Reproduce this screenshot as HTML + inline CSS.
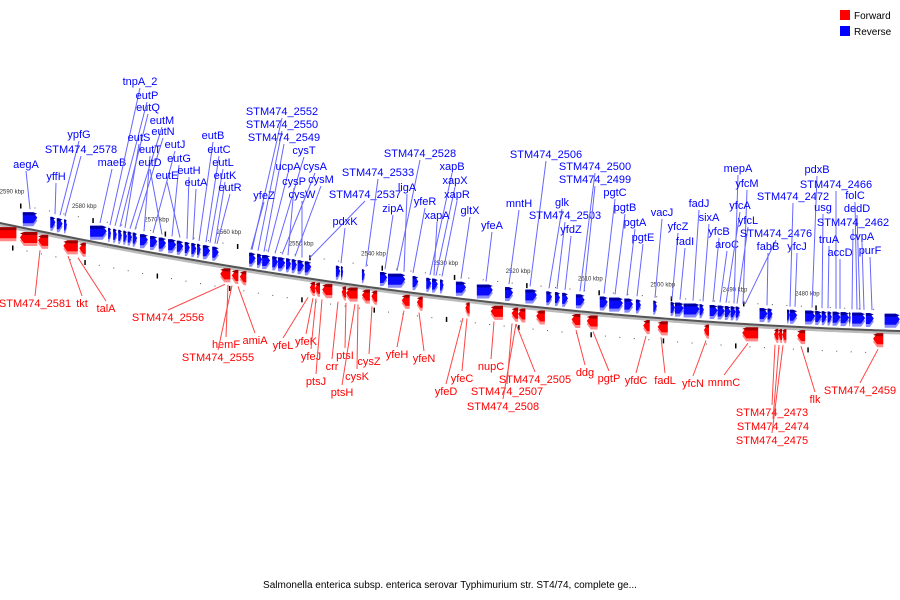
<!DOCTYPE html>
<html><head><meta charset="utf-8"><style>
body{margin:0;background:#fff;width:900px;height:600px;overflow:hidden}
svg{display:block}
text{font-family:"Liberation Sans","DejaVu Sans",sans-serif}
</style></head><body>
<svg id="chart" width="900" height="600" viewBox="0 0 900 600" xmlns="http://www.w3.org/2000/svg">
<g id="bg"></g>
<g id="legend">
<rect x="840" y="10" width="10" height="10" fill="#ff0000"/>
<text x="854" y="19" font-size="10" fill="#000">Forward</text>
<rect x="840" y="26" width="10" height="10" fill="#0000ff"/>
<text x="854" y="35" font-size="10" fill="#000">Reverse</text>
</g>
<text x="450" y="588" font-size="10" text-anchor="middle" fill="#000">Salmonella enterica subsp. enterica serovar Typhimurium str. ST4/74, complete ge...</text>
</svg>
<script>
// axis ticks (kbp)
const tickKbp=[2590,2580,2570,2560,2550,2540,2530,2520,2510,2500,2490,2480];
// reverse-strand (blue) genes [start kbp, end kbp]
const blueGenes=[[2588.5,2586.5],[2584.7,2584.0],[2583.8,2583.0],[2582.8,2582.4],[2579.2,2576.9],[2576.7,2576.3],[2576.0,2575.5],[2575.3,2574.8],[2574.6,2574.1],[2574.0,2573.4],[2573.3,2572.7],[2572.3,2571.2],[2570.9,2569.9],[2569.7,2568.7],[2568.4,2567.3],[2567.2,2566.3],[2566.1,2565.4],[2565.2,2564.5],[2564.4,2563.9],[2563.6,2562.6],[2562.3,2561.4],[2557.2,2556.3],[2556.1,2555.4],[2555.4,2554.3],[2554.0,2553.2],[2553.2,2552.2],[2552.1,2551.4],[2551.3,2550.6],[2550.5,2549.6],[2549.5,2548.6],[2545.2,2544.6],[2544.5,2544.2],[2541.6,2541.2],[2539.1,2538.1],[2538.0,2535.6],[2534.6,2533.8],[2532.7,2532.0],[2531.9,2531.1],[2530.8,2530.3],[2528.6,2527.2],[2525.7,2523.5],[2521.8,2520.7],[2519.0,2517.4],[2516.1,2515.3],[2514.9,2514.2],[2513.9,2513.1],[2512.0,2510.8],[2508.7,2507.6],[2507.4,2505.5],[2505.3,2504.1],[2503.7,2503.0],[2501.3,2500.8],[2498.9,2498.3],[2498.3,2497.1],[2497.1,2494.9],[2494.9,2494.3],[2493.5,2492.4],[2492.4,2491.4],[2491.4,2490.6],[2490.6,2489.9],[2489.9,2489.3],[2486.6,2485.5],[2485.5,2484.8],[2482.8,2482.4],[2482.4,2481.4],[2480.3,2478.9],[2478.9,2478.0],[2478.0,2477.3],[2477.2,2476.6],[2476.5,2475.4],[2475.4,2474.2],[2474.2,2474.0],[2473.8,2472.0],[2471.9,2470.8],[2469.3,2467.2]];
// forward-strand (red) genes [start kbp, end kbp]
const redGenes=[[2592.3,2589.4],[2588.9,2586.5],[2586.4,2585.0],[2582.9,2580.9],[2580.7,2579.8],[2561.2,2559.8],[2559.6,2558.7],[2558.5,2557.6],[2548.8,2548.1],[2548.1,2547.4],[2547.1,2545.7],[2544.4,2543.8],[2543.8,2542.2],[2541.6,2540.5],[2540.3,2539.5],[2536.1,2535.0],[2534.0,2533.2],[2527.3,2526.7],[2523.8,2522.1],[2520.9,2520.0],[2520.0,2519.0],[2517.5,2516.3],[2512.6,2511.4],[2510.5,2509.0],[2502.7,2501.8],[2500.7,2499.3],[2494.3,2493.6],[2489.0,2486.8],[2484.6,2484.0],[2484.0,2483.5],[2483.5,2482.9],[2481.4,2480.3],[2470.9,2469.5]];
// labels: name, label x, label baseline, gene x
const blueLabels=[["aegA",26,168,30],["yffH",56,180,55],["ypfG",79,138,60],["STM474_2578",81,153,65],["maeB",112,166,100],["tnpA_2",140,85,110],["eutP",147,99,115],["eutQ",148,111,120],["eutS",139,141,125],["eutM",162,124,130],["eutN",163,135,135],["eutT",150,153,144],["eutJ",175,148,153],["eutD",150,166,162],["eutG",179,162,172],["eutE",167,179,180],["eutH",189,174,187],["eutA",196,186,193],["eutB",213,139,199],["eutC",219,153,206],["eutL",223,166,210],["eutK",225,179,215],["eutR",230,191,217],["STM474_2552",282,115,252],["STM474_2550",282,128,258],["STM474_2549",284,141,264],["cysT",304,154,275],["ucpA",288,170,268],["cysA",315,170,282],["cysP",294,185,288],["cysM",321,183,295],["yfeZ",264,199,251],["cysW",302,198,302],["STM474_2537",365,198,309],["pdxK",345,225,341],["STM474_2533",378,176,366],["zipA",393,212,385],["STM474_2528",420,157,397],["ligA",407,191,404],["yfeR",425,205,413],["xapB",452,170,430],["xapX",455,184,436],["xapR",457,198,442],["xapA",437,219,434],["gltX",470,214,461],["yfeA",492,229,486],["STM474_2506",546,158,530],["mntH",519,207,509],["glk",562,206,549],["STM474_2503",565,219,557],["yfdZ",571,233,565],["STM474_2500",595,170,580],["STM474_2499",595,183,584],["pgtC",615,196,604],["pgtB",625,211,615],["pgtA",635,226,627],["pgtE",643,241,637],["vacJ",662,216,655],["yfcZ",678,230,672],["fadI",685,245,680],["fadJ",699,207,693],["sixA",709,221,703],["yfcB",719,235,713],["aroC",727,248,720],["mepA",738,172,734],["yfcM",747,187,743],["yfcA",740,209,726],["yfcL",748,224,737],["STM474_2476",776,237,745],["fabB",768,250,767],["yfcJ",797,250,795],["STM474_2472",793,200,790],["pdxB",817,173,812],["STM474_2466",836,188,836],["usg",823,211,822],["truA",829,243,828],["accD",840,256,840],["folC",855,199,857],["dedD",857,212,860],["STM474_2462",853,226,852],["cvpA",862,240,864],["purF",870,254,872]];
const redLabels=[["STM474_2581",35,307,40],["tkt",82,307,68],["talA",106,312,78],["STM474_2556",168,321,225],["hemF",226,348,228],["amiA",255,344,238],["STM474_2555",218,361,232],["yfeL",283,349,308],["yfeK",306,345,313],["yfeJ",311,360,316],["ptsJ",316,385,322],["crr",332,370,338],["ptsI",345,359,346],["cysK",357,380,358],["ptsH",342,396,355],["cysZ",369,365,372],["yfeH",397,358,404],["yfeN",424,362,419],["yfeC",462,382,467],["yfeD",446,395,463],["nupC",491,370,494],["STM474_2505",535,383,516],["STM474_2507",507,395,512],["STM474_2508",503,410,516],["ddg",585,376,576],["pgtP",609,382,593],["yfdC",636,384,646],["fadL",665,384,661],["yfcN",693,387,706],["mnmC",724,386,748],["STM474_2473",772,416,775],["STM474_2474",773,430,779],["STM474_2475",772,444,783],["flk",815,403,801],["STM474_2459",860,394,878]];

const NS="http://www.w3.org/2000/svg";
const svg=document.getElementById('chart');
const bg=document.getElementById('bg');
function xScale(k){return 12+(2590-k)*7.23;}
function lineY(x){return 223+0.2108*x-1.009e-4*x*x;}
function mk(tag,attrs,parent){const e=document.createElementNS(NS,tag);for(const k in attrs)e.setAttribute(k,attrs[k]);(parent||bg).appendChild(e);return e;}

// backbone
let d="";for(let x=-5;x<=905;x+=5){d+=(x===-5?"M":"L")+x+","+lineY(x).toFixed(2);}
const sh=mk('path',{d:d,stroke:'#bbb','stroke-width':4,fill:'none',transform:'translate(0,1.5)'});


const bb=mk('path',{d:d,stroke:'#555','stroke-width':2,fill:'none'});



// ticks and kbp labels
tickKbp.forEach(k=>{
  const x=xScale(k),y=lineY(x);
  const t=mk('text',{x:x,y:y-32,'font-size':6,fill:'#333','text-anchor':'middle'});
  t.textContent=k+" kbp";
  
  
  const m1=mk('rect',{x:x+8,y:y-22,width:1.5,height:5,fill:'#000'});
  
  
  const m2=mk('rect',{x:x,y:y+20,width:1.5,height:5,fill:'#000'});
  
  
  for(let i=1;i<5;i++){
    const xx=xScale(k-i*2);
    const a=mk('rect',{x:xx+8,y:lineY(xx)-21,width:1,height:1,fill:'#555'});
    
    
    const b=mk('rect',{x:xx,y:lineY(xx)+22,width:1,height:1,fill:'#555'});
    
    
  }
});

function arrow(x1,x2,top,h,dir){
  const head=Math.min(4,(x2-x1)*0.6);
  if(dir>0) return `${x1},${top} ${x2-head},${top} ${x2},${top+h/2} ${x2-head},${top+h} ${x1},${top+h}`;
  return `${x2},${top} ${x1+head},${top} ${x1},${top+h/2} ${x1+head},${top+h} ${x2},${top+h}`;
}
blueGenes.forEach((g,i)=>{
  const x1=xScale(g[0]),x2=xScale(g[1]);
  const top=lineY((x1+x2)/2)-17;
  const l=mk('polygon',{points:arrow(x1,x2,top+3,11,1),fill:'#8a8aff'});
  
  
  const p=mk('polygon',{points:arrow(x1,x2,top,11,1),fill:'#0a0aff'});
  
  
  const tp=mk('polygon',{points:arrow(x1,x2,top,3,1),fill:'#0000a0'});
  
  
});
redGenes.forEach((g,i)=>{
  const x1=xScale(g[0]),x2=xScale(g[1]);
  const top=lineY((x1+x2)/2)+3;
  const l=mk('polygon',{points:arrow(x1,x2,top+3,11,-1),fill:'#ff8a8a'});
  
  
  const p=mk('polygon',{points:arrow(x1,x2,top,11,-1),fill:'#ff0000'});
  
  
  const tp=mk('polygon',{points:arrow(x1,x2,top,3,-1),fill:'#a00000'});
  
  
});

blueLabels.forEach(L=>{
  const [n,tx,ty,gx]=L;
  const ln=mk('line',{x1:tx,y1:ty+3,x2:gx,y2:lineY(gx)-20,stroke:'#6666ff','stroke-width':1});
  
  
  const t=mk('text',{x:tx,y:ty,'font-size':11,fill:'#0000ff','text-anchor':'middle'});
  t.textContent=n;
  
  
});
redLabels.forEach(L=>{
  const [n,tx,ty,gx]=L;
  const ln=mk('line',{x1:gx,y1:lineY(gx)+19,x2:tx,y2:ty-11,stroke:'#ff4444','stroke-width':1});
  
  
  const t=mk('text',{x:tx,y:ty,'font-size':11,fill:'#ff0000','text-anchor':'middle'});
  t.textContent=n;
  
  
});
</script>
</body></html>
